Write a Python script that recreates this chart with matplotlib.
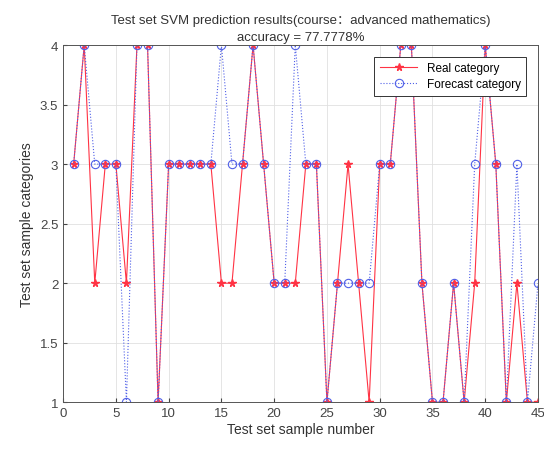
import numpy as np
import matplotlib
matplotlib.use('Agg')
import matplotlib.pyplot as plt

plt.rcParams['font.family'] = ['Liberation Sans', 'Noto Sans CJK SC', 'DejaVu Sans']

# test set results
sample_no = np.arange(1, 46)
real_cat = [3, 4, 2, 3, 3, 2, 4, 4, 1, 3, 3, 3, 3, 3, 2, 2, 3, 4, 3, 2, 2, 2, 3,
            3, 1, 2, 3, 2, 1, 3, 3, 4, 4, 2, 1, 1, 2, 1, 2, 4, 3, 1, 2, 1, 1]
pred_cat = [3, 4, 3, 3, 3, 1, 4, 4, 1, 3, 3, 3, 3, 3, 4, 3, 3, 4, 3, 2, 2, 4, 3,
            3, 1, 2, 2, 2, 2, 3, 3, 4, 4, 2, 1, 1, 2, 1, 3, 4, 3, 1, 3, 1, 2]
accuracy = np.mean(np.array(real_cat) == np.array(pred_cat)) * 100

fig = plt.figure(figsize=(5.44, 4.52), dpi=100)
ax = fig.add_axes([0.116, 0.108, 0.873, 0.79])

ax.plot(sample_no, real_cat, '-*', color='#ff3344', lw=0.8, ms=5.5, label='Real category')
ax.plot(sample_no, pred_cat, ':o', color='#5060e8', lw=0.8, ms=6, mfc='none',
        mew=0.8, label='Forecast category')

ax.set_xlim(0, 45)
ax.set_ylim(1, 4)
ax.set_xticks(np.arange(0, 46, 5))
ax.set_yticks(np.arange(1, 4.01, 0.5))
ax.set_yticklabels(['1', '1.5', '2', '2.5', '3', '3.5', '4'])
ax.grid(True, color='#e0e0e0', lw=0.6)
ax.tick_params(direction='in', labelsize=9.5, colors='#444444', length=3)
for s in ax.spines.values():
    s.set_color('#555555')
    s.set_linewidth(0.7)

ax.set_xlabel('Test set sample number', fontsize=10, color='#333333', labelpad=2)
ax.set_ylabel('Test set sample categories', fontsize=10, color='#333333', labelpad=4)
ax.set_title('Test set SVM prediction results(course：advanced mathematics)\n'
             'accuracy = %.4f%%' % accuracy, fontsize=9.5, color='#333333',
             linespacing=1.5, pad=4)

leg = ax.legend(loc='upper right', fontsize=8.5, fancybox=False, framealpha=1,
                edgecolor='#333333', borderaxespad=1.0, handlelength=3.2,
                borderpad=0.45, labelspacing=0.35)
leg.get_frame().set_linewidth(0.7)

fig.savefig('out.png', dpi=100)
